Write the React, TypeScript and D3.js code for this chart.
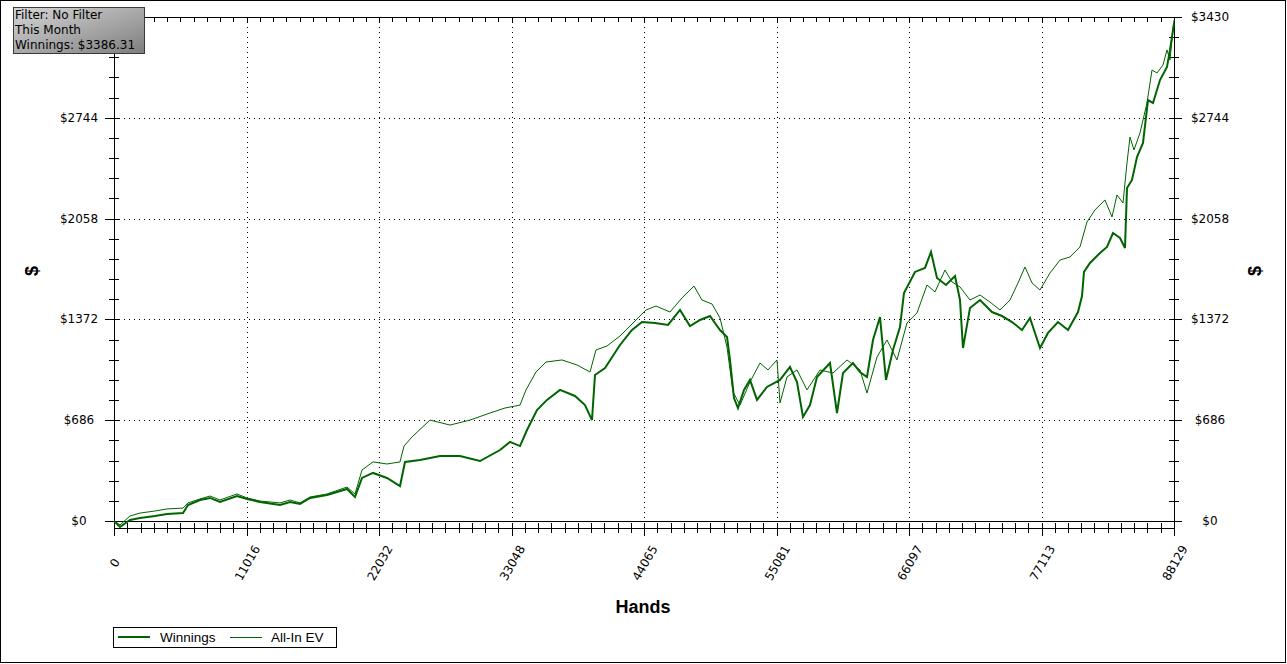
import React from "react";
import * as d3 from "d3";

const W = 1287;
const H = 664;

const xTickLabels = ["0", "11016", "22032", "33048", "44065", "55081", "66097", "77113", "88129"];
const yTickValues = [0, 686, 1372, 2058, 2744, 3430];
const yTickLabels = ["$0", "$686", "$1372", "$2058", "$2744", "$3430"];
const maxHands = 88129;
const maxDollars = 3430;

const infoLines = ["Filter: No Filter", "This Month", "Winnings: $3386.31"];
const seriesNames = ["Winnings", "All-In EV"];

const winHands = [0, 499, 1330, 2162, 3409, 4406, 5737, 6152, 7150, 7981, 8813, 10226, 11058, 12138, 13801, 14633, 15464, 16295, 17709, 19372, 20037, 20619, 21534, 22698, 23778, 24194, 25441, 27104, 28766, 30429, 32092, 32923, 33755, 34337, 35168, 36000, 37080, 38327, 39159, 39741, 39990, 40822, 42069, 43067, 43898, 44979, 46060, 47057, 47888, 48720, 49551, 50383, 50965, 51214, 51547, 51879, 52378, 52877, 53459, 54290, 55371, 56202, 56785, 57283, 57865, 58447, 59528, 60110, 60609, 61440, 62022, 62604, 63103, 63685, 64183, 64765, 65347, 65680, 66595, 67426, 67925, 68424, 69172, 69920, 70336, 70585, 71168, 71999, 72997, 73828, 74660, 75491, 76156, 76988, 77653, 78484, 79316, 80147, 80480, 80646, 81145, 81976, 82558, 83057, 83639, 84055, 84221, 84637, 85052, 85551, 85967, 86382, 86964, 87546, 87795, 88129];
const winValues = [0, -41, 7, 20, 34, 48, 54, 109, 143, 157, 129, 170, 150, 129, 109, 129, 116, 157, 177, 218, 163, 293, 327, 293, 238, 402, 415, 442, 442, 408, 483, 538, 510, 619, 755, 824, 892, 851, 789, 687, 994, 1041, 1198, 1300, 1354, 1348, 1334, 1436, 1327, 1368, 1395, 1300, 1252, 1096, 837, 769, 892, 960, 824, 912, 960, 1048, 946, 708, 789, 980, 1075, 735, 1007, 1075, 1014, 980, 1232, 1388, 960, 1164, 1320, 1552, 1695, 1722, 1831, 1654, 1606, 1667, 1504, 1177, 1450, 1504, 1422, 1395, 1354, 1300, 1382, 1177, 1280, 1354, 1300, 1422, 1531, 1695, 1756, 1824, 1865, 1960, 1926, 1858, 2266, 2321, 2477, 2573, 2865, 2845, 3001, 3090, 3206, 3386];

const evHands = [0, 499, 1330, 2162, 3409, 4406, 5737, 6152, 7150, 7981, 8813, 10226, 11058, 12138, 13801, 14633, 15464, 16295, 17709, 19372, 20037, 20619, 21534, 22698, 23778, 24111, 24776, 26273, 27936, 29598, 31261, 32508, 33755, 34254, 35085, 35916, 37246, 38493, 39575, 40073, 40988, 42069, 43399, 44230, 45062, 46226, 47223, 48221, 48886, 49717, 50383, 50965, 51464, 52046, 52877, 53708, 54373, 55122, 55371, 55953, 56785, 57616, 58697, 59778, 60942, 62022, 62604, 63435, 64266, 65098, 65929, 66761, 67592, 68258, 69089, 69671, 70336, 71168, 71999, 72831, 73662, 74493, 75159, 75741, 76323, 76988, 77819, 78651, 79482, 80313, 80895, 81560, 82392, 82974, 83390, 83889, 84221, 84471, 84803, 85302, 85884, 86299, 86715, 87214, 87546, 87795, 88129];
const evValues = [0, -27, 34, 54, 68, 82, 88, 123, 150, 170, 143, 184, 157, 136, 123, 143, 123, 163, 184, 231, 184, 347, 402, 388, 402, 510, 572, 687, 653, 687, 735, 769, 789, 892, 1014, 1082, 1096, 1062, 1014, 1164, 1191, 1259, 1368, 1436, 1463, 1422, 1518, 1599, 1504, 1477, 1382, 1184, 878, 789, 946, 1075, 1028, 1096, 803, 980, 1028, 892, 1028, 1007, 1096, 1028, 871, 1116, 1232, 1096, 1348, 1416, 1606, 1559, 1708, 1627, 1593, 1504, 1538, 1490, 1436, 1504, 1620, 1729, 1620, 1572, 1688, 1776, 1797, 1865, 2035, 2117, 2185, 2069, 2219, 2164, 2437, 2613, 2525, 2641, 2845, 3069, 3049, 3103, 3206, 3137, 3410];

const LINE = "#006400";

export default function App() {
  const x = d3.scaleLinear().domain([0, maxHands]).range([114, 1174]);
  const y = d3.scaleLinear().domain([0, maxDollars]).range([521, 17]);

  const line = d3
    .line<[number, number]>()
    .x((d) => x(d[0]))
    .y((d) => y(d[1]));

  const winPts = winHands.map((h, i) => [h, winValues[i]] as [number, number]);
  const evPts = evHands.map((h, i) => [h, evValues[i]] as [number, number]);

  const majorX = xTickLabels.map((_, i) => (i * maxHands) / 8);
  const minorX = d3.range(0, 81).map((i) => (i * maxHands) / 80);
  const minorY = d3.range(0, 26).map((i) => (i * maxDollars) / 25);

  const font = "'DejaVu Sans', Verdana, sans-serif";
  const xAxisY = 528;

  return (
    <div style={{ position: "fixed", left: 0, top: 0, width: W, height: H, background: "#fff" }}>
      <svg width={W} height={H} style={{ display: "block" }} shapeRendering="crispEdges">
        <defs>
          <linearGradient id="boxg" x1="0" y1="0" x2="1" y2="1">
            <stop offset="0" stopColor="#d6d6d6" />
            <stop offset="1" stopColor="#7e7e7e" />
          </linearGradient>
        </defs>
        <rect x={0.5} y={0.5} width={W - 2} height={H - 2} fill="#fff" stroke="#000" />

        {/* grid lines */}
        {majorX.slice(1, 8).map((v, i) => (
          <line key={"gx" + i} x1={Math.round(x(v)) + 0.5} x2={Math.round(x(v)) + 0.5} y1={17} y2={521} stroke="#000" strokeDasharray="1,4" />
        ))}
        {yTickValues.slice(1, 5).map((v, i) => (
          <line key={"gy" + i} x1={114} x2={1174} y1={Math.round(y(v)) + 0.5} y2={Math.round(y(v)) + 0.5} stroke="#000" strokeDasharray="1,4" />
        ))}

        {/* zero line and top line */}
        <line x1={105} x2={1182} y1={521.5} y2={521.5} stroke="#000" />
        <line x1={105} x2={1182} y1={17.5} y2={17.5} stroke="#000" />
        {/* x axis */}
        <line x1={114} x2={1174} y1={xAxisY + 0.5} y2={xAxisY + 0.5} stroke="#000" />
        {/* left / right axes */}
        <line x1={114.5} x2={114.5} y1={17} y2={536} stroke="#000" />
        <line x1={1174.5} x2={1174.5} y1={17} y2={536} stroke="#000" />

        {/* y ticks */}
        {minorY.map((v, i) => {
          const yy = Math.round(y(v)) + 0.5;
          const major = i % 5 === 0;
          return (
            <g key={"ty" + i}>
              <line x1={major ? 105 : 109} x2={119} y1={yy} y2={yy} stroke="#000" />
              <line x1={1169} x2={major ? 1182 : 1179} y1={yy} y2={yy} stroke="#000" />
            </g>
          );
        })}
        {/* x ticks */}
        {minorX.map((v, i) => {
          const xx = Math.round(x(v)) + 0.5;
          const major = i % 10 === 0;
          return (
            <g key={"tx" + i}>
              <line x1={xx} x2={xx} y1={523} y2={major ? 536 : 533} stroke="#000" />
              <line x1={xx} x2={xx} y1={17} y2={22} stroke="#000" />
            </g>
          );
        })}

        {/* y labels (left top label is hidden under the info box in the original) */}
        {yTickValues.map((v, i) => (
          <g key={"yl" + i} fontFamily={font} fontSize={12} fill="#000">
            {i < yTickValues.length - 1 && (
              <text x={79} y={y(v) + 4} textAnchor="middle">{yTickLabels[i]}</text>
            )}
            <text x={1210} y={y(v) + 4} textAnchor="middle">{yTickLabels[i]}</text>
          </g>
        ))}
        {/* x labels */}
        {majorX.map((v, i) => (
          <text
            key={"xl" + i}
            transform={`translate(${x(v) + 1},563) rotate(-60)`}
            textAnchor="middle"
            dominantBaseline="central"
            fontFamily={font}
            fontSize={12}
            fill="#000"
          >
            {xTickLabels[i]}
          </text>
        ))}

        {/* axis titles */}
        <text x={643} y={613} textAnchor="middle" fontFamily="'Liberation Sans', Arial, sans-serif" fontWeight="bold" fontSize={18}>
          Hands
        </text>
        <text transform="translate(32,271) rotate(-90)" textAnchor="middle" dominantBaseline="central" fontFamily="'Liberation Sans', Arial, sans-serif" fontWeight="bold" fontSize={18}>
          $
        </text>
        <text transform="translate(1255,271) rotate(-90)" textAnchor="middle" dominantBaseline="central" fontFamily="'Liberation Sans', Arial, sans-serif" fontWeight="bold" fontSize={18}>
          $
        </text>

        {/* series */}
        <g shapeRendering="auto">
          <path d={line(evPts) || ""} fill="none" stroke={LINE} strokeWidth={1} strokeLinejoin="miter" />
          <path d={line(winPts) || ""} fill="none" stroke={LINE} strokeWidth={2} strokeLinejoin="miter" />
        </g>

        {/* info box */}
        <rect x={13.5} y={7.5} width={131} height={46} fill="url(#boxg)" stroke="#3a3a3a" />
        {infoLines.map((t, i) => (
          <text key={"il" + i} x={15} y={19 + i * 15} fontFamily={font} fontSize={12} fill="#000">
            {t}
          </text>
        ))}

        {/* legend */}
        <rect x={113.5} y={627.5} width={223} height={20} fill="#fff" stroke="#000" />
        <line x1={118} x2={150} y1={637} y2={637} stroke={LINE} strokeWidth={2} />
        <text x={160} y={642} fontFamily="'Liberation Sans', Arial, sans-serif" fontSize={13.5} fill="#000">
          {seriesNames[0]}
        </text>
        <line x1={230} x2={262} y1={637.5} y2={637.5} stroke={LINE} strokeWidth={1} />
        <text x={271} y={642} fontFamily="'Liberation Sans', Arial, sans-serif" fontSize={13.5} fill="#000">
          {seriesNames[1]}
        </text>
      </svg>
    </div>
  );
}
